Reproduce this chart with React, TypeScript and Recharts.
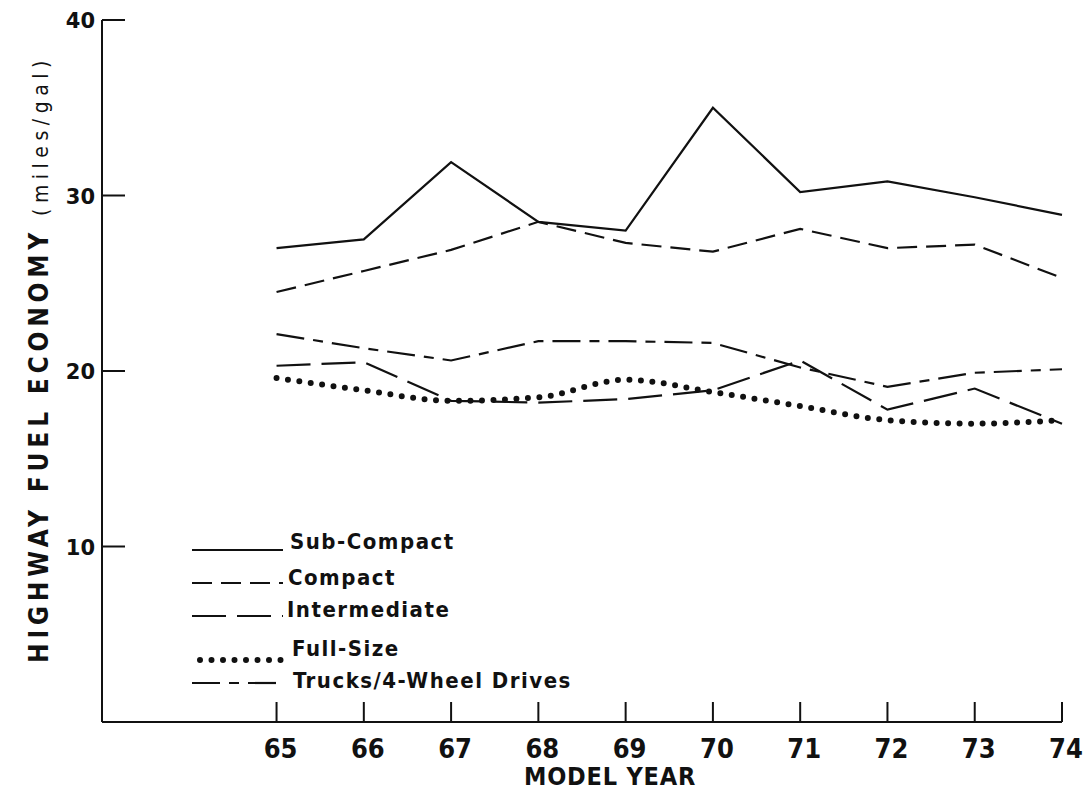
import React from 'react';
import { LineChart, Line, XAxis, YAxis, Legend } from 'recharts';

// model years and highway mileage per size class (miles/gal)
const years = [65, 66, 67, 68, 69, 70, 71, 72, 73, 74];
const subCompact = [27.0, 27.5, 31.9, 28.5, 28.0, 35.0, 30.2, 30.8, 29.9, 28.9];
const compact = [24.5, 25.7, 26.9, 28.5, 27.3, 26.8, 28.1, 27.0, 27.2, 25.3];
const intermediate = [20.3, 20.5, 18.3, 18.2, 18.4, 18.9, 20.6, 17.8, 19.0, 17.0];
const fullSize = [19.6, 18.9, 18.3, 18.5, 19.5, 18.8, 18.0, 17.2, 17.0, 17.2];
const trucks = [22.1, 21.3, 20.6, 21.7, 21.7, 21.6, 20.2, 19.1, 19.9, 20.1];

const yTicks = [10, 20, 30, 40];

const INK = '#111';
const BOLD_FONT = '"DejaVu Sans Condensed", "DejaVu Sans", sans-serif';

const data = years.map((year, i) => ({
  year,
  subCompact: subCompact[i],
  compact: compact[i],
  intermediate: intermediate[i],
  fullSize: fullSize[i],
  trucks: trucks[i],
}));

type SeriesStyle = {
  key: string;
  name: string;
  dash?: string;
  width: number;
  curve: 'linear' | 'monotone';
  // legend row placement inside the legend box
  rowY: number;
  textX: number;
  textY: number;
};

const series: SeriesStyle[] = [
  { key: 'subCompact', name: 'Sub-Compact', width: 2.2, curve: 'linear', rowY: 25, textX: 110, textY: 24 },
  { key: 'compact', name: 'Compact', dash: '20 9', width: 2.2, curve: 'linear', rowY: 58, textX: 108, textY: 60 },
  { key: 'intermediate', name: 'Intermediate', dash: '34 11', width: 2.2, curve: 'linear', rowY: 91, textX: 107, textY: 92 },
  { key: 'fullSize', name: 'Full-Size', dash: '0 11.5', width: 6, curve: 'monotone', rowY: 135, textX: 112, textY: 131 },
  { key: 'trucks', name: 'Trucks/4-Wheel Drives', dash: '28 9 10 9', width: 2.2, curve: 'linear', rowY: 158, textX: 113, textY: 163 },
];

const YTick = ({ x, y, payload }: any) => (
  <g>
    <line x1={x} x2={x + 23} y1={y} y2={y} stroke={INK} strokeWidth={2} />
    <text
      x={x - 7}
      y={y + 8}
      textAnchor="end"
      fill={INK}
      fontFamily='"DejaVu Sans", sans-serif'
      fontWeight="bold"
      fontSize={21}
    >
      {payload.value}
    </text>
  </g>
);

const XTick = ({ x, y, payload }: any) => (
  <g>
    <line x1={x} x2={x} y1={y} y2={y - 20} stroke={INK} strokeWidth={2} />
    <text
      x={x + 4}
      y={y + 36}
      textAnchor="middle"
      fill={INK}
      fontFamily={BOLD_FONT}
      fontWeight="bold"
      fontSize={27}
    >
      {payload.value}
    </text>
  </g>
);

const YTitle = () => (
  <text transform="translate(48, 663) rotate(-90)" fill={INK} fontFamily={BOLD_FONT}>
    <tspan fontSize={26} fontWeight="bold" letterSpacing={4.8}>
      HIGHWAY FUEL ECONOMY
    </tspan>
    <tspan dx={12} fontSize={21} fontWeight="normal" letterSpacing={5.5}>
      (miles/gal)
    </tspan>
  </text>
);

const XTitle = () => (
  <text
    x={610}
    y={785}
    textAnchor="middle"
    fill={INK}
    fontFamily={BOLD_FONT}
    fontWeight="bold"
    fontSize={25}
    letterSpacing={0.8}
  >
    MODEL YEAR
  </text>
);

const renderLegend = () => (
  <svg width={420} height={175}>
    {series.map((s) => (
      <g key={s.key}>
        <line
          x1={s.key === 'fullSize' ? 20 : 12}
          x2={103}
          y1={s.rowY}
          y2={s.rowY}
          stroke={INK}
          strokeWidth={s.width}
          strokeDasharray={s.dash}
          strokeLinecap={s.key === 'fullSize' ? 'round' : 'butt'}
        />
        <text
          x={s.textX}
          y={s.textY}
          fill={INK}
          fontFamily={BOLD_FONT}
          fontWeight="bold"
          fontSize={22}
          letterSpacing={1.5}
        >
          {s.name}
        </text>
      </g>
    ))}
  </svg>
);

export default function App() {
  return (
    <div style={{ position: 'absolute', left: 0, top: 0, width: 1083, height: 790, background: '#fff' }}>
      <LineChart width={1083} height={790} data={data} margin={{ top: 20, right: 21, bottom: 8, left: 12 }}>
        <XAxis
          dataKey="year"
          type="number"
          domain={[63, 74]}
          ticks={years}
          height={60}
          tickLine={false}
          tickSize={0}
          tickMargin={0}
          tick={<XTick />}
          axisLine={{ stroke: INK, strokeWidth: 2 }}
          label={{ content: () => <XTitle /> }}
        />
        <YAxis
          type="number"
          domain={[0, 40]}
          ticks={yTicks}
          width={90}
          tickLine={false}
          tickSize={0}
          tickMargin={0}
          tick={<YTick />}
          axisLine={{ stroke: INK, strokeWidth: 2 }}
          label={{ content: () => <YTitle /> }}
        />
        <Legend
          layout="horizontal"
          verticalAlign="middle"
          align="center"
          wrapperStyle={{ left: 180, top: 525, width: 420, height: 175 }}
          content={renderLegend}
        />
        {series.map((s) => (
          <Line
            key={s.key}
            dataKey={s.key}
            name={s.name}
            type={s.curve}
            stroke={INK}
            strokeWidth={s.width}
            strokeDasharray={s.dash}
            strokeLinecap={s.key === 'fullSize' ? 'round' : 'butt'}
            dot={false}
            activeDot={false}
            isAnimationActive={false}
          />
        ))}
      </LineChart>
    </div>
  );
}
